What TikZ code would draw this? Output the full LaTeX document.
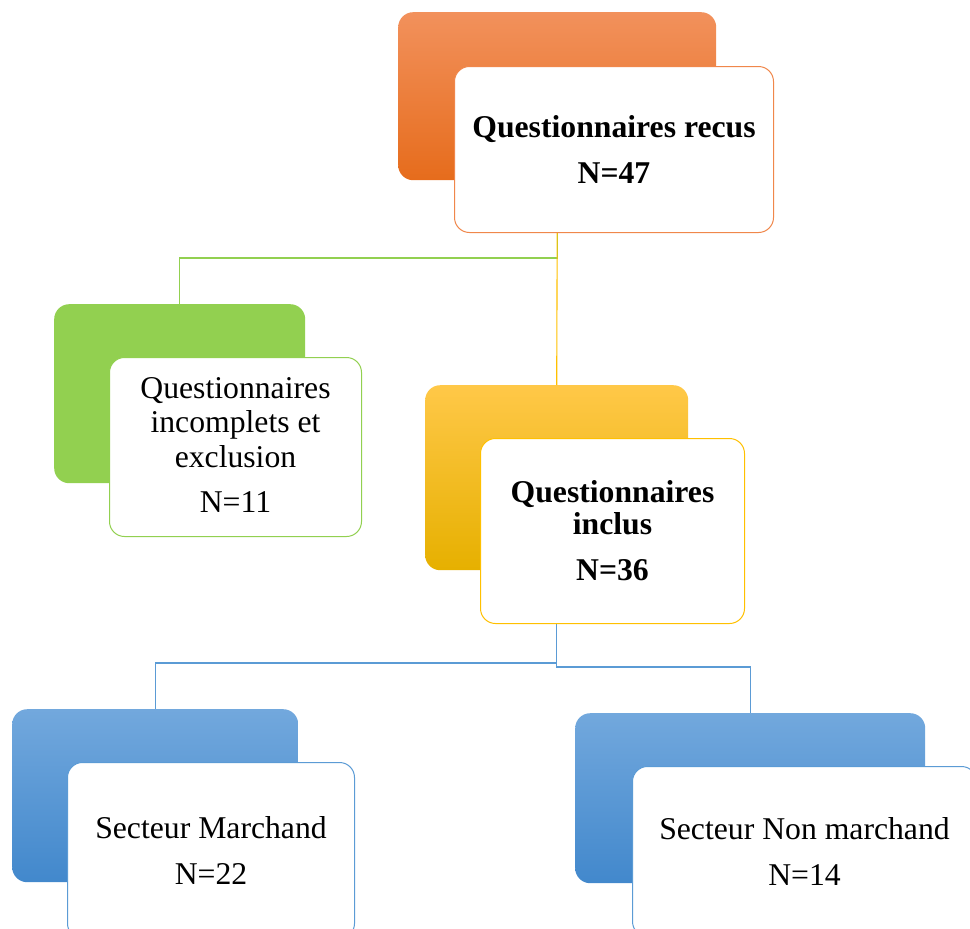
\documentclass[tikz,border=0pt]{standalone}
\usepackage{fontspec}
\setmainfont{Liberation Serif}
\definecolor{orTop}{RGB}{242,145,92}
\definecolor{orBot}{RGB}{230,108,28}
\definecolor{orLine}{RGB}{240,135,75}
\definecolor{grFill}{RGB}{146,208,80}
\definecolor{ylTop}{RGB}{255,200,72}
\definecolor{ylMid}{RGB}{255,192,0}
\definecolor{ylBot}{RGB}{230,176,0}
\definecolor{blTop}{RGB}{114,168,221}
\definecolor{blBot}{RGB}{66,136,204}
\definecolor{blLine}{RGB}{91,155,213}
\begin{document}
\begin{tikzpicture}[x=1pt,y=-1pt,
  backbox/.style={rounded corners=15pt, anchor=north west, inner sep=0pt, draw=none},
  frontbox/.style={rounded corners=15pt, anchor=north west, fill=white, line width=1pt,
    align=center, inner sep=0pt, font=\fontsize{31.7}{34.5}\selectfont},
  boldtext/.style={font=\fontsize{31.7}{32}\selectfont\bfseries},
  link/.style={line width=1.1pt}
]
\useasboundingbox (0,0) rectangle (970,929);
\clip (0,0) rectangle (970,929);

% back boxes
\node[backbox, top color=orTop, bottom color=orBot, minimum width=318pt, minimum height=168pt] (ob) at (398,12) {};
\node[backbox, fill=grFill, minimum width=251pt, minimum height=179pt] (gb) at (54,304) {};
\node[backbox, top color=ylTop, middle color=ylMid, bottom color=ylBot, minimum width=263pt, minimum height=185pt] (yb) at (425,385) {};
\node[backbox, top color=blTop, bottom color=blBot, minimum width=286pt, minimum height=173pt] (blb) at (12,709) {};
\node[backbox, top color=blTop, bottom color=blBot, minimum width=350pt, minimum height=170pt] (brb) at (575,713) {};

% connectors
\draw[link, draw=grFill] (ob.south |- 0,232) -- ++(0,26) -| (gb.north);
\draw[link, draw=ylMid] (ob.south |- 0,232) -- (yb.north);
\draw[link, draw=blLine] (yb.south |- 0,623) -- ++(0,40) -| (blb.north);
\draw[link, draw=blLine] (yb.south |- 0,623) -- ++(0,44) -| (brb.north);

% front boxes
\node[frontbox, boldtext, draw=orLine, minimum width=319pt, minimum height=166pt] (of) at (454,66)
  {Questionnaires recus\\[14pt]N=47};
\node[frontbox, draw=grFill, minimum width=252pt, minimum height=179pt, text depth=4pt] (gf) at (109,357)
  {Questionnaires\\incomplets et\\exclusion\\[11pt]N=11};
\node[frontbox, boldtext, draw=ylMid, minimum width=264pt, minimum height=185pt] (yf) at (480,438)
  {Questionnaires\\inclus\\[14pt]N=36};
\node[frontbox, draw=blLine, minimum width=287pt, minimum height=176pt] (blf) at (67,762)
  {Secteur Marchand\\[11pt]N=22};
\node[frontbox, draw=blLine, minimum width=344pt, minimum height=170pt] (brf) at (632,766)
  {Secteur Non marchand\\[11pt]N=14};
\end{tikzpicture}
\end{document}
